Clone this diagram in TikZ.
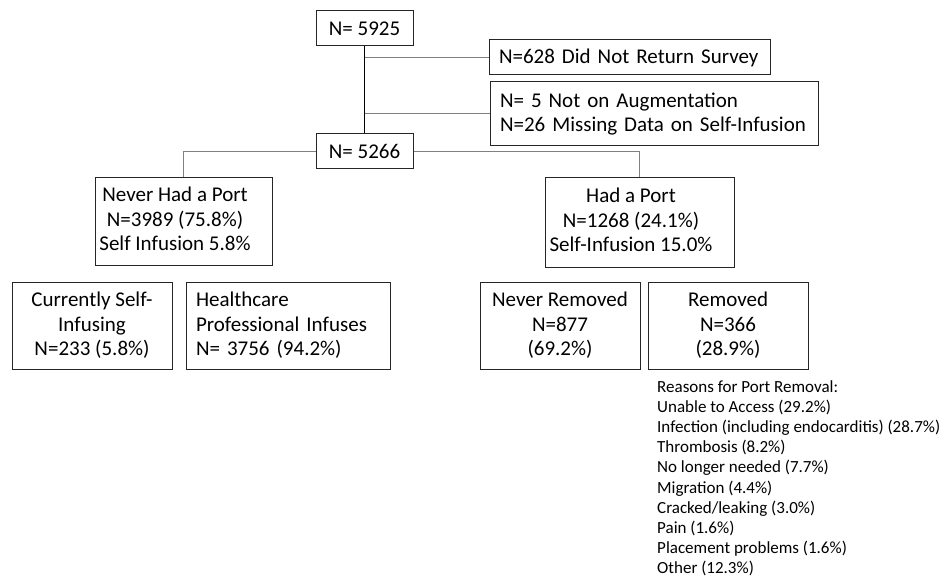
\documentclass[tikz,border=0pt]{standalone}
\usepackage{fontspec}
\setmainfont{Carlito}
\begin{document}
\begin{tikzpicture}[x=1pt, y=-1pt,
    box/.style={draw=black!85, line width=1pt, inner sep=0pt, align=center,
        font=\fontsize{21}{24.5}\selectfont},
    leftbox/.style={box, align=left, inner xsep=10pt},
    branch/.style={black!50, line width=1pt},
    trunk/.style={black, line width=1.6pt}]
    \useasboundingbox (0,0) rectangle (941,577);

    % Totals
    \node[box, minimum width=97pt, minimum height=35pt] (total) at (364.5,28.5) {N= 5925};
    \node[box, minimum width=97pt, minimum height=35pt] (kept) at (364.5,151.5) {N= 5266};

    % Excluded
    \node[leftbox, text width=261pt, minimum height=35pt] (noreturn) at (629.5,57.5) {N=628 Did Not Return Survey};
    \node[leftbox, text width=308pt, minimum height=64pt] (excluded) at (654,114) {N= 5 Not on Augmentation\\N=26 Missing Data on Self-Infusion};

    % Port groups
    \node[box, minimum width=177pt, minimum height=87pt] (noport) at (183.5,221.5)
        {\begin{tabular}{@{}c@{}}Never Had a Port\\N=3989 (75.8\%)\\Self Infusion 5.8\%\end{tabular}\hspace*{17pt}};
    \node[box, minimum width=189pt, minimum height=89pt] (hadport) at (639.5,222.5)
        {\begin{tabular}{@{}c@{}}Had a Port\\N=1268 (24.1\%)\\Self-Infusion 15.0\%\end{tabular}\hspace*{17pt}};

    % Sub groups
    \node[box, minimum width=160pt, minimum height=87pt] (selfinf) at (92,325.5) {Currently Self-\\Infusing\\N=233 (5.8\%)};
    \node[leftbox, text width=184pt, minimum height=87pt] (hcp) at (288,325.5) {Healthcare\\Professional Infuses\\N= 3756 (94.2\%)};
    \node[box, minimum width=160pt, minimum height=87pt] (notremoved) at (560,325.5) {Never Removed\\N=877\\(69.2\%)};
    \node[box, minimum width=160pt, minimum height=87pt] (removed) at (728,325.5) {Removed\\N=366\\(28.9\%)};

    % Reasons
    \node[anchor=north west, inner sep=0pt, align=left, font=\fontsize{17}{20.1}\selectfont] (reasons) at (657,380.5)
        {Reasons for Port Removal:\\Unable to Access (29.2\%)\\Infection (including endocarditis) (28.7\%)\\Thrombosis (8.2\%)\\No longer needed (7.7\%)\\Migration (4.4\%)\\Cracked/leaking (3.0\%)\\Pain (1.6\%)\\Placement problems (1.6\%)\\Other (12.3\%)};

    % Connectors
    \draw[branch] (total.south |- noreturn.west) -- (noreturn.west);
    \draw[branch] (total.south |- excluded.west) -- (excluded.west);
    \draw[trunk] (total) -- (kept);
    \draw[branch] (kept.west) -| (noport.north);
    \draw[branch] (kept.east) -| (hadport.north);
\end{tikzpicture}
\end{document}
